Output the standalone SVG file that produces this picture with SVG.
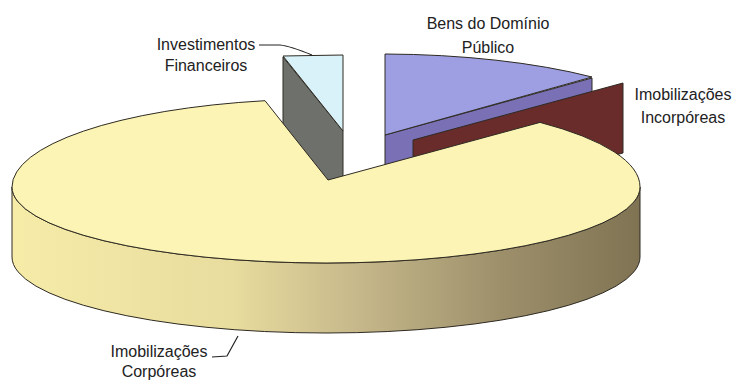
<svg xmlns="http://www.w3.org/2000/svg" width="739" height="380" viewBox="0 0 739 380">
<style>
.lbl{font-family:"Liberation Sans",Arial,sans-serif;font-size:16px;fill:#222;text-anchor:middle}
.edge{stroke:#2e2a22;stroke-width:1;stroke-linejoin:round}
.lead{fill:none;stroke:#222;stroke-width:1.2}
</style>
<defs>
<linearGradient id="side" gradientUnits="userSpaceOnUse" x1="12" y1="0" x2="640" y2="0">
<stop offset="0" stop-color="#f6eca8"/>
<stop offset="0.35" stop-color="#e8dc9e"/>
<stop offset="0.55" stop-color="#c6b88a"/>
<stop offset="0.78" stop-color="#9d8f6a"/>
<stop offset="1" stop-color="#7f7353"/>
</linearGradient>
</defs>
<rect width="739" height="380" fill="#ffffff"/>
<g id="slice-bens-dominio-publico">
<path class="edge" d="M385,135 L592,78 L592,148 L385,205 Z" fill="#7a70b6" stroke="#2a2a66"/>
<path class="edge" d="M385,135 L385,54 A314,88 0 0,1 592,77 Z" fill="#9d9fe2" stroke="#2a2a66"/>
</g>
<g id="slice-imobilizacoes-incorporeas">
<path class="edge" d="M413,140 L623,83 L623,153 L413,210 Z" fill="#6a2b2b" stroke="#3a1212"/>
</g>
<g id="slice-investimentos-financeiros">
<path class="edge" d="M283,57 L343,131 L343,201 L283,127 Z" fill="#6e706b" stroke="#2a2a2a"/>
<path class="edge" d="M283,56 L343,55 L343,131 Z" fill="#d9f1f8" stroke="#2a2a2a"/>
</g>
<g id="slice-imobilizacoes-corporeas">
<path class="edge" d="M12,187 A314,76 0 0,0 640,187 L640,257 A314,76 0 0,1 12,257 Z" fill="url(#side)"/>
<path class="edge" d="M328,180 L540,122.4 A314,88 0 0,1 640,187 A314,76 0 0,1 12,187 A314,88 0 0,1 265,100.7 Z" fill="#fcf4b4"/>
</g>
<g id="connectors">
<path class="lead" d="M259,45 L280,45 Q290,46 312,55"/>
<path class="lead" d="M212,357 L227,356 L238,336"/>
</g>
<g id="labels">
<text class="lbl" x="488" y="29">Bens do Domínio</text>
<text class="lbl" x="488" y="53">Público</text>
<text class="lbl" x="683" y="100">Imobilizações</text>
<text class="lbl" x="683" y="123">Incorpóreas</text>
<text class="lbl" x="206" y="50">Investimentos</text>
<text class="lbl" x="206" y="71">Financeiros</text>
<text class="lbl" x="159" y="357">Imobilizações</text>
<text class="lbl" x="159" y="377">Corpóreas</text>
</g>
</svg>
